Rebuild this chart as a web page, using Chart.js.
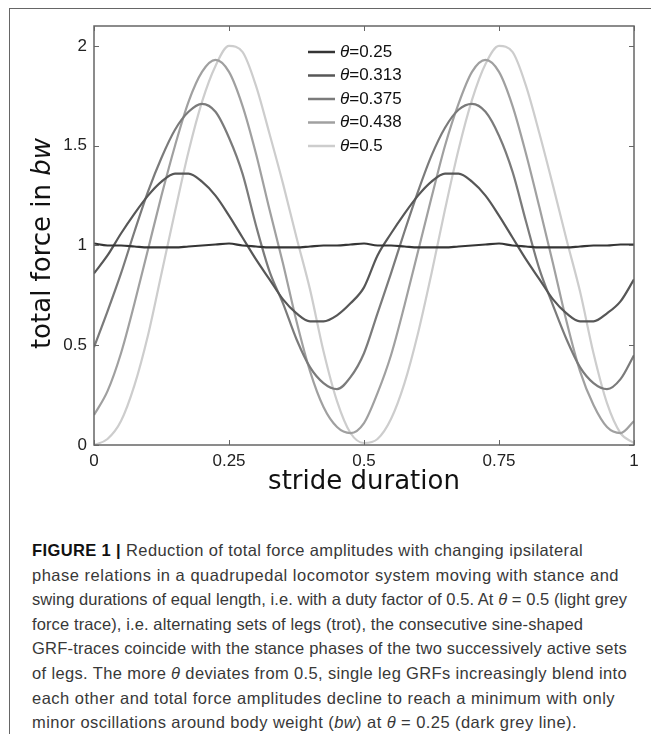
<!DOCTYPE html>
<html>
<head>
<meta charset="utf-8">
<script src="https://cdn.jsdelivr.net/npm/chart.js@4.4.0/dist/chart.umd.min.js"></script>
<style>
  html, body { margin: 0; padding: 0; background: #fff; }
  body { width: 651px; height: 734px; position: relative; overflow: hidden; }
  #frame { position: absolute; left: 9px; top: 8px; width: 700px; height: 800px;
           border-top: 1px solid #666; border-left: 1px solid #666; }
  #wrap { position: absolute; left: 0; top: 0; width: 651px; height: 520px; }
  #caption { position: absolute; left: 32px; top: 538px; font-family: "Liberation Sans", Arial, sans-serif;
             font-size: 16.5px; line-height: 24.6px; color: #383838; }
  #caption b { color: #111; }
  #caption div { white-space: nowrap; }
  #caption span.fit { display: inline-block; }
</style>
</head>
<body>
<div id="frame"></div>
<div id="wrap"><canvas id="c" width="651" height="520"></canvas></div>
<div id="caption">
  <div data-w="551"><span class="fit"><b>FIGURE 1 |</b> Reduction of total force amplitudes with changing ipsilateral</span></div>
  <div data-w="587"><span class="fit">phase relations in a quadrupedal locomotor system moving with stance and</span></div>
  <div data-w="595"><span class="fit">swing durations of equal length, i.e. with a duty factor of 0.5. At <i>θ</i> = 0.5 (light grey</span></div>
  <div data-w="551"><span class="fit">force trace), i.e. alternating sets of legs (trot), the consecutive sine-shaped</span></div>
  <div data-w="595"><span class="fit">GRF-traces coincide with the stance phases of the two successively active sets</span></div>
  <div data-w="595"><span class="fit">of legs. The more <i>θ</i> deviates from 0.5, single leg GRFs increasingly blend into</span></div>
  <div data-w="583"><span class="fit">each other and total force amplitudes decline to reach a minimum with only</span></div>
  <div data-w="545"><span class="fit">minor oscillations around body weight (<i>bw</i>) at <i>θ</i> = 0.25 (dark grey line).</span></div>
</div>
<script>
// stride duration samples
const strideX = [0, 0.025, 0.05, 0.075, 0.1, 0.125, 0.15, 0.175, 0.2, 0.225, 0.25, 0.275, 0.3, 0.325, 0.35, 0.375, 0.4, 0.425, 0.45, 0.475,
  0.5, 0.525, 0.55, 0.575, 0.6, 0.625, 0.65, 0.675, 0.7, 0.725, 0.75, 0.775, 0.8, 0.825, 0.85, 0.875, 0.9, 0.925, 0.95, 0.975, 1];

// total force in bw, one list per theta
const force025 = [1.01, 1.00, 1.00, 0.995, 0.99, 0.99, 0.99, 0.995, 1.00, 1.005, 1.01, 1.00, 0.995, 0.99, 0.99, 0.99, 0.995, 1.00, 1.00, 1.005,
  1.01, 1.00, 1.00, 0.995, 0.99, 0.99, 0.99, 0.995, 1.00, 1.005, 1.01, 1.00, 0.995, 0.99, 0.99, 0.99, 0.995, 1.00, 1.00, 1.005, 1.005];
const force0313 = [0.86, 0.95, 1.06, 1.16, 1.25, 1.32, 1.36, 1.36, 1.32, 1.25, 1.15, 1.04, 0.93, 0.83, 0.73, 0.66, 0.62, 0.62, 0.65, 0.71,
  0.79, 0.95, 1.06, 1.16, 1.25, 1.32, 1.36, 1.36, 1.32, 1.25, 1.15, 1.04, 0.93, 0.83, 0.73, 0.66, 0.62, 0.62, 0.66, 0.72, 0.83];
const force0375 = [0.49, 0.67, 0.86, 1.07, 1.27, 1.44, 1.58, 1.67, 1.71, 1.67, 1.54, 1.36, 1.10, 0.87, 0.71, 0.53, 0.39, 0.31, 0.28, 0.34,
  0.46, 0.66, 0.86, 1.07, 1.27, 1.45, 1.59, 1.68, 1.71, 1.67, 1.55, 1.37, 1.12, 0.88, 0.70, 0.53, 0.39, 0.31, 0.28, 0.33, 0.45];
const force0438 = [0.15, 0.27, 0.46, 0.71, 0.98, 1.25, 1.50, 1.72, 1.87, 1.93, 1.87, 1.70, 1.46, 1.18, 0.91, 0.62, 0.37, 0.19, 0.09, 0.06,
  0.11, 0.26, 0.45, 0.70, 0.97, 1.24, 1.50, 1.71, 1.87, 1.93, 1.87, 1.70, 1.46, 1.19, 0.91, 0.62, 0.37, 0.20, 0.09, 0.06, 0.12];
const force05 = [0.00, 0.03, 0.12, 0.30, 0.55, 0.86, 1.17, 1.47, 1.72, 1.90, 2.00, 1.97, 1.80, 1.56, 1.31, 1.04, 0.78, 0.47, 0.22, 0.06,
  0.01, 0.03, 0.13, 0.31, 0.56, 0.86, 1.18, 1.48, 1.73, 1.91, 2.00, 1.97, 1.80, 1.56, 1.30, 1.03, 0.77, 0.46, 0.21, 0.06, 0.01];

const thetaLabels = ['0.25', '0.313', '0.375', '0.438', '0.5'];
const xTicks = [0, 0.25, 0.5, 0.75, 1];
const xTickLabels = ['0', '0.25', '0.5', '0.75', '1'];
const yTicks = [0, 0.5, 1, 1.5, 2];
const yTickLabels = ['0', '0.5', '1', '1.5', '2'];

const seriesList = [force025, force0313, force0375, force0438, force05];
const greys = ['#353535', '#575757', '#7b7b7b', '#a0a0a0', '#cdcdcd'];

const boxPlugin = {
  id: 'box',
  afterDraw(chart) {
    const ctx = chart.ctx, a = chart.chartArea;
    const xs = chart.scales.x, ys = chart.scales.y;
    ctx.save();
    ctx.strokeStyle = '#666';
    ctx.lineWidth = 1.5;
    ctx.strokeRect(a.left, a.top, a.right - a.left, a.bottom - a.top);
    ctx.lineWidth = 1;
    ctx.beginPath();
    xTicks.forEach(v => {
      const px = Math.round(xs.getPixelForValue(v)) + 0.5;
      ctx.moveTo(px, a.bottom); ctx.lineTo(px, a.bottom - 5);
      ctx.moveTo(px, a.top); ctx.lineTo(px, a.top + 5);
    });
    yTicks.forEach(v => {
      const py = Math.round(ys.getPixelForValue(v)) + 0.5;
      ctx.moveTo(a.left, py); ctx.lineTo(a.left + 5, py);
      ctx.moveTo(a.right, py); ctx.lineTo(a.right - 5, py);
    });
    ctx.stroke();

    // y axis title with italic unit
    const part1 = 'total force in ', part2 = 'bw';
    const f1 = '26px "DejaVu Sans"', f2 = 'italic 26px "DejaVu Sans"';
    ctx.font = f1; const w1 = ctx.measureText(part1).width;
    ctx.font = f2; const w2 = ctx.measureText(part2).width;
    ctx.translate(43, (a.top + a.bottom) / 2 + 8);
    ctx.rotate(-Math.PI / 2);
    ctx.fillStyle = '#111';
    ctx.textBaseline = 'middle';
    ctx.textAlign = 'left';
    ctx.font = f1; ctx.fillText(part1, -(w1 + w2) / 2, 0);
    ctx.font = f2; ctx.fillText(part2, -(w1 + w2) / 2 + w1, 0);
    ctx.restore();

    // legend
    ctx.save();
    ctx.textBaseline = 'middle';
    chart.data.datasets.forEach((ds, i) => {
      const y = 52 + i * 23.5;
      ctx.strokeStyle = ds.borderColor;
      ctx.lineWidth = 2.5;
      ctx.beginPath(); ctx.moveTo(308, y); ctx.lineTo(335, y); ctx.stroke();
      ctx.fillStyle = '#111';
      ctx.font = 'italic 17px "Liberation Sans"';
      ctx.fillText('θ', 340, y);
      const tw = ctx.measureText('θ').width;
      ctx.font = '17px "Liberation Sans"';
      ctx.fillText('=' + ds.label, 340 + tw, y);
    });
    ctx.restore();
  }
};

new Chart(document.getElementById('c'), {
  type: 'line',
  plugins: [boxPlugin],
  data: {
    datasets: seriesList.map((s, i) => ({
      label: thetaLabels[i],
      data: strideX.map((x, j) => ({ x: x, y: s[j] })),
      borderColor: greys[i],
      borderWidth: 2.2,
      pointRadius: 0,
      fill: false,
      cubicInterpolationMode: 'monotone',
    }))
  },
  options: {
    responsive: false,
    animation: false,
    layout: { padding: { top: 26, right: 17, left: 0, bottom: 0 } },
    plugins: {
      legend: { display: false },
      tooltip: { enabled: false },
    },
    scales: {
      x: {
        type: 'linear',
        min: 0,
        max: 1,
        afterBuildTicks: s => { s.ticks = xTicks.map(v => ({ value: v })); },
        afterFit: s => { s.height = 75; },
        grid: { display: false, drawTicks: false },
        border: { display: false },
        ticks: {
          callback: (v, i) => xTickLabels[i],
          font: { family: 'Liberation Sans', size: 17 },
          color: '#222',
          padding: 6,
          maxRotation: 0,
        },
        title: {
          display: true,
          text: 'stride duration',
          font: { family: 'DejaVu Sans', size: 26, lineHeight: 1.2 },
          color: '#111',
          padding: { top: 0, bottom: 22 },
        },
      },
      y: {
        min: 0,
        max: 2.1,
        afterBuildTicks: s => { s.ticks = yTicks.map(v => ({ value: v })); },
        afterFit: s => { s.width = 94; },
        grid: { display: false, drawTicks: false },
        border: { display: false },
        ticks: {
          callback: (v, i) => yTickLabels[i],
          font: { family: 'Liberation Sans', size: 17 },
          color: '#222',
          padding: 7,
        },
      }
    }
  }
});

// squeeze caption lines to the reference widths
document.querySelectorAll('#caption div').forEach(d => {
  const span = d.querySelector('.fit');
  const target = +d.dataset.w;
  const w0 = span.getBoundingClientRect().width;
  const n = span.textContent.length;
  span.style.letterSpacing = ((target - w0) / n).toFixed(3) + 'px';
});
</script>
</body>
</html>
